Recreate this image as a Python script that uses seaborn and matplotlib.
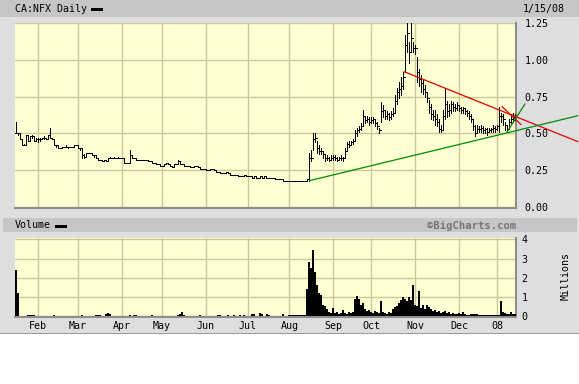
import numpy as np
import pandas as pd
import matplotlib
matplotlib.use("Agg")
import matplotlib.pyplot as plt
import seaborn as sns
from matplotlib.patches import Rectangle

# ---------------- data ----------------
start_date = "2007-01-17"
end_date = "2008-01-15"
holidays = ["2007-04-06", "2007-05-21", "2007-07-02", "2007-08-06", "2007-09-03",
            "2007-10-08", "2007-12-25", "2007-12-26", "2008-01-01"]

close = [0.50, 0.50, 0.46, 0.42, 0.42, 0.49, 0.45, 0.48, 0.48, 0.45,
         0.46, 0.46, 0.46, 0.47, 0.47, 0.46, 0.49, 0.47, 0.46, 0.42,
         0.42, 0.40, 0.40, 0.41, 0.41, 0.41, 0.41, 0.41, 0.41, 0.42,
         0.42, 0.40, 0.40, 0.35, 0.34, 0.37, 0.37, 0.37, 0.35, 0.35,
         0.33, 0.32, 0.32, 0.31, 0.32, 0.31, 0.33, 0.33, 0.33, 0.33,
         0.33, 0.33, 0.33, 0.33, 0.30, 0.30, 0.30, 0.35, 0.33, 0.33,
         0.32, 0.32, 0.32, 0.32, 0.32, 0.32, 0.31, 0.31, 0.30, 0.30,
         0.29, 0.29, 0.28, 0.28, 0.29, 0.30, 0.29, 0.28, 0.27, 0.29,
         0.29, 0.31, 0.29, 0.29, 0.28, 0.28, 0.28, 0.27, 0.27, 0.28,
         0.28, 0.27, 0.26, 0.26, 0.26, 0.25, 0.25, 0.26, 0.26, 0.25,
         0.24, 0.24, 0.23, 0.23, 0.23, 0.24, 0.23, 0.22, 0.22, 0.22,
         0.22, 0.21, 0.21, 0.21, 0.22, 0.21, 0.21, 0.21, 0.20, 0.21,
         0.20, 0.20, 0.21, 0.20, 0.21, 0.20, 0.20, 0.20, 0.20, 0.20,
         0.19, 0.19, 0.19, 0.19, 0.18, 0.18, 0.18, 0.18, 0.18, 0.18,
         0.18, 0.18, 0.18, 0.18, 0.18, 0.18, 0.19, 0.33, 0.33, 0.46,
         0.47, 0.40, 0.38, 0.38, 0.36, 0.33, 0.33, 0.32, 0.33, 0.34,
         0.33, 0.32, 0.33, 0.33, 0.33, 0.38, 0.43, 0.42, 0.44, 0.45,
         0.50, 0.52, 0.53, 0.55, 0.62, 0.59, 0.60, 0.58, 0.59, 0.60,
         0.57, 0.55, 0.52, 0.65, 0.66, 0.62, 0.63, 0.61, 0.63, 0.64,
         0.72, 0.78, 0.80, 0.82, 0.88, 1.10, 1.18, 1.05, 1.15, 1.08,
         1.08, 0.92, 0.87, 0.84, 0.80, 0.78, 0.74, 0.68, 0.63, 0.62,
         0.60, 0.58, 0.53, 0.52, 0.62, 0.70, 0.65, 0.66, 0.70, 0.68,
         0.67, 0.69, 0.67, 0.66, 0.67, 0.65, 0.64, 0.62, 0.60, 0.55,
         0.50, 0.53, 0.53, 0.54, 0.52, 0.53, 0.51, 0.52, 0.53, 0.54,
         0.53, 0.55, 0.62, 0.62, 0.60, 0.56, 0.53, 0.58, 0.60, 0.61, 0.61]

high = [0.58, 0.50, 0.50, 0.46, 0.43, 0.49, 0.49, 0.48, 0.49, 0.48,
        0.47, 0.47, 0.47, 0.47, 0.48, 0.47, 0.49, 0.54, 0.47, 0.46,
        0.42, 0.42, 0.40, 0.41, 0.41, 0.42, 0.41, 0.41, 0.41, 0.42,
        0.42, 0.42, 0.40, 0.40, 0.36, 0.37, 0.37, 0.37, 0.37, 0.35,
        0.35, 0.33, 0.32, 0.32, 0.32, 0.32, 0.33, 0.34, 0.33, 0.34,
        0.33, 0.34, 0.33, 0.33, 0.33, 0.30, 0.30, 0.39, 0.35, 0.33,
        0.33, 0.32, 0.32, 0.32, 0.32, 0.32, 0.32, 0.31, 0.31, 0.30,
        0.30, 0.29, 0.29, 0.28, 0.29, 0.30, 0.30, 0.29, 0.28, 0.29,
        0.29, 0.32, 0.31, 0.29, 0.29, 0.28, 0.28, 0.28, 0.27, 0.28,
        0.28, 0.28, 0.27, 0.26, 0.26, 0.26, 0.25, 0.26, 0.26, 0.26,
        0.25, 0.24, 0.24, 0.23, 0.23, 0.24, 0.24, 0.23, 0.22, 0.22,
        0.22, 0.22, 0.21, 0.21, 0.22, 0.22, 0.21, 0.21, 0.21, 0.21,
        0.21, 0.20, 0.21, 0.21, 0.21, 0.21, 0.20, 0.20, 0.20, 0.20,
        0.20, 0.19, 0.19, 0.19, 0.19, 0.18, 0.18, 0.18, 0.18, 0.18,
        0.18, 0.18, 0.18, 0.18, 0.18, 0.18, 0.19, 0.37, 0.39, 0.50,
        0.50, 0.45, 0.42, 0.40, 0.38, 0.36, 0.35, 0.34, 0.35, 0.35,
        0.35, 0.34, 0.34, 0.35, 0.34, 0.40, 0.44, 0.45, 0.45, 0.46,
        0.52, 0.54, 0.55, 0.57, 0.66, 0.62, 0.62, 0.61, 0.61, 0.61,
        0.60, 0.58, 0.54, 0.71, 0.69, 0.66, 0.65, 0.64, 0.65, 0.67,
        0.76, 0.81, 0.85, 0.88, 0.92, 1.17, 1.30, 1.12, 1.30, 1.12,
        1.10, 1.02, 0.94, 0.90, 0.86, 0.83, 0.78, 0.73, 0.70, 0.66,
        0.66, 0.63, 0.60, 0.56, 0.66, 0.81, 0.72, 0.70, 0.72, 0.71,
        0.70, 0.71, 0.69, 0.68, 0.68, 0.67, 0.66, 0.65, 0.63, 0.60,
        0.56, 0.56, 0.55, 0.56, 0.55, 0.54, 0.54, 0.54, 0.54, 0.56,
        0.55, 0.56, 0.68, 0.64, 0.63, 0.58, 0.56, 0.60, 0.63, 0.64, 0.63]

low = [0.50, 0.49, 0.46, 0.42, 0.42, 0.42, 0.45, 0.45, 0.47, 0.45,
       0.45, 0.44, 0.45, 0.46, 0.46, 0.46, 0.46, 0.47, 0.46, 0.42,
       0.41, 0.40, 0.40, 0.40, 0.41, 0.41, 0.40, 0.41, 0.41, 0.41,
       0.42, 0.40, 0.39, 0.33, 0.33, 0.34, 0.37, 0.37, 0.35, 0.34,
       0.33, 0.32, 0.32, 0.31, 0.31, 0.31, 0.31, 0.33, 0.33, 0.33,
       0.33, 0.33, 0.33, 0.33, 0.30, 0.30, 0.30, 0.30, 0.33, 0.33,
       0.32, 0.32, 0.32, 0.32, 0.32, 0.32, 0.31, 0.31, 0.30, 0.30,
       0.29, 0.29, 0.28, 0.28, 0.28, 0.29, 0.29, 0.28, 0.27, 0.27,
       0.29, 0.29, 0.29, 0.29, 0.28, 0.28, 0.28, 0.27, 0.27, 0.27,
       0.28, 0.27, 0.26, 0.26, 0.26, 0.25, 0.25, 0.25, 0.26, 0.25,
       0.24, 0.24, 0.23, 0.23, 0.23, 0.23, 0.23, 0.22, 0.22, 0.22,
       0.22, 0.21, 0.21, 0.21, 0.21, 0.21, 0.21, 0.21, 0.20, 0.20,
       0.20, 0.20, 0.20, 0.20, 0.20, 0.20, 0.20, 0.20, 0.20, 0.20,
       0.19, 0.19, 0.19, 0.19, 0.18, 0.18, 0.18, 0.18, 0.18, 0.18,
       0.18, 0.18, 0.18, 0.18, 0.18, 0.18, 0.18, 0.18, 0.31, 0.39,
       0.44, 0.37, 0.36, 0.36, 0.33, 0.31, 0.32, 0.31, 0.32, 0.32,
       0.32, 0.31, 0.32, 0.32, 0.31, 0.33, 0.38, 0.41, 0.42, 0.43,
       0.45, 0.48, 0.51, 0.52, 0.56, 0.57, 0.58, 0.56, 0.57, 0.57,
       0.55, 0.53, 0.50, 0.58, 0.61, 0.60, 0.60, 0.59, 0.60, 0.62,
       0.64, 0.70, 0.74, 0.76, 0.80, 0.92, 1.05, 0.98, 1.05, 1.05,
       1.04, 0.85, 0.82, 0.78, 0.77, 0.75, 0.71, 0.64, 0.60, 0.59,
       0.56, 0.55, 0.51, 0.51, 0.53, 0.60, 0.61, 0.62, 0.64, 0.65,
       0.65, 0.66, 0.65, 0.64, 0.64, 0.63, 0.62, 0.60, 0.58, 0.52,
       0.48, 0.50, 0.51, 0.51, 0.50, 0.50, 0.49, 0.51, 0.51, 0.51,
       0.51, 0.52, 0.51, 0.58, 0.56, 0.52, 0.51, 0.53, 0.57, 0.58, 0.59]

volume = [2.4, 1.2, 0.02, 0.02, 0.02, 0.02, 0.05, 0.05, 0.04, 0.05,
          0.02, 0.01, 0.02, 0.01, 0.02, 0.01, 0.02, 0.02, 0.01, 0.03,
          0.01, 0.02, 0.01, 0.01, 0.02, 0.01, 0.01, 0.02, 0.01, 0.01,
          0.02, 0.01, 0.02, 0.03, 0.02, 0.01, 0.01, 0.02, 0.01, 0.01,
          0.04, 0.03, 0.04, 0.02, 0.02, 0.10, 0.15, 0.08, 0.02, 0.01,
          0.01, 0.02, 0.01, 0.01, 0.02, 0.01, 0.01, 0.03, 0.01, 0.05,
          0.05, 0.01, 0.02, 0.01, 0.01, 0.02, 0.01, 0.01, 0.03, 0.01,
          0.01, 0.02, 0.01, 0.01, 0.02, 0.01, 0.01, 0.02, 0.01, 0.01,
          0.02, 0.05, 0.10, 0.22, 0.05, 0.01, 0.02, 0.01, 0.01, 0.02,
          0.01, 0.02, 0.03, 0.01, 0.01, 0.02, 0.01, 0.01, 0.02, 0.01,
          0.02, 0.05, 0.05, 0.01, 0.02, 0.01, 0.03, 0.01, 0.02, 0.03,
          0.01, 0.02, 0.03, 0.01, 0.03, 0.01, 0.02, 0.02, 0.10, 0.08,
          0.02, 0.01, 0.15, 0.10, 0.02, 0.02, 0.08, 0.06, 0.02, 0.01,
          0.02, 0.01, 0.02, 0.01, 0.08, 0.02, 0.01, 0.07, 0.05, 0.04,
          0.05, 0.03, 0.05, 0.04, 0.03, 0.05, 1.40, 2.80, 2.50, 3.45,
          2.30, 1.60, 1.20, 1.10, 0.60, 0.50, 0.35, 0.20, 0.15, 0.40,
          0.15, 0.20, 0.10, 0.15, 0.30, 0.15, 0.10, 0.20, 0.15, 0.20,
          0.90, 1.04, 0.90, 0.55, 0.70, 0.35, 0.25, 0.30, 0.20, 0.15,
          0.25, 0.20, 0.15, 0.78, 0.20, 0.15, 0.10, 0.20, 0.15, 0.35,
          0.45, 0.50, 0.70, 0.85, 1.00, 0.90, 0.80, 1.00, 0.85, 1.60,
          0.60, 0.50, 1.30, 0.40, 0.60, 0.35, 0.60, 0.45, 0.35, 0.25,
          0.30, 0.20, 0.25, 0.15, 0.20, 0.25, 0.15, 0.20, 0.10, 0.15,
          0.12, 0.10, 0.15, 0.10, 0.20, 0.10, 0.05, 0.05, 0.10, 0.10,
          0.08, 0.10, 0.05, 0.03, 0.05, 0.05, 0.04, 0.05, 0.03, 0.05,
          0.04, 0.05, 0.05, 0.80, 0.20, 0.15, 0.10, 0.12, 0.20, 0.10, 0.10]

month_labels = ["Feb", "Mar", "Apr", "May", "Jun", "Jul", "Aug", "Sep", "Oct", "Nov", "Dec", "08"]
price_ticks = [0.00, 0.25, 0.50, 0.75, 1.00, 1.25]
volume_ticks = [0, 1, 2, 3, 4]

# trend lines drawn on the chart: (trading-day index, price)
red_long_x, red_long_y = [194.5, 281.5], [0.919, 0.444]
green_long_x, green_long_y = [147.0, 281.5], [0.179, 0.620]
red_short_x, red_short_y = [243.5, 253.0], [0.682, 0.560]
green_short_x, green_short_y = [246.0, 255.0], [0.510, 0.700]

# ---------------- build frame ----------------
cbd = pd.offsets.CustomBusinessDay(holidays=holidays)
dates = pd.date_range(start_date, end_date, freq=cbd)
n = min(len(dates), len(close), len(high), len(low), len(volume))
df = pd.DataFrame({"date": dates[:n], "close": close[:n], "high": high[:n],
                   "low": low[:n], "volume": volume[:n]})
df["idx"] = np.arange(n)
df["open"] = df["close"].shift(1).fillna(df["close"].iloc[0])
month_start = df.groupby(df["date"].dt.to_period("M"))["idx"].min().sort_index().iloc[1:].values
month_start = month_start[:len(month_labels)]

# ---------------- style ----------------
sns.set_theme(style="white")
plt.rcParams["font.family"] = ["DejaVu Sans Mono", "DejaVu Sans"]

W, H = 579, 384
BG = "#dedede"
BAR = "#c6c6c6"
PANEL = "#ffffd4"
GRID = "#c9c996"
BORDER = "#8e8e8e"
LW = 0.55

fig = plt.figure(figsize=(W / 100, H / 100), dpi=100, facecolor=BG)


def rect(l, t, r, b):
    return [l / W, 1 - b / H, (r - l) / W, (b - t) / H]


def fx(x):
    return x / W


def fy(y):
    return 1 - y / H


# background decorations
fig.patches.append(Rectangle((0, fy(17)), 1, 17 / H, transform=fig.transFigure,
                             facecolor=BAR, edgecolor="none", zorder=-5))
fig.patches.append(Rectangle((fx(3), fy(232)), fx(574), 14 / H, transform=fig.transFigure,
                             facecolor=BAR, edgecolor="none", zorder=-5))
fig.patches.append(Rectangle((0, 0), 1, (H - 334) / H, transform=fig.transFigure,
                             facecolor="white", edgecolor="none", zorder=-5))
fig.patches.append(Rectangle((0, fy(334)), 1, 1.5 / H, transform=fig.transFigure,
                             facecolor="#9a9a9a", edgecolor="none", zorder=-4))
# legend swatches
fig.patches.append(Rectangle((fx(91), fy(10.5)), fx(12), 3 / H, transform=fig.transFigure,
                             facecolor="black", edgecolor="none"))
fig.patches.append(Rectangle((fx(55), fy(227.5)), fx(12), 3 / H, transform=fig.transFigure,
                             facecolor="black", edgecolor="none"))

# ---------------- price panel ----------------
ax = fig.add_axes(rect(15, 23, 516, 208))
ax.set_facecolor(PANEL)
ax.set_xlim(-0.5, n - 0.5)
ax.set_ylim(-1 / 147.2, 1.25)

idx = df["idx"].values
ax.vlines(idx, df["low"], df["high"], color="black", lw=LW, antialiased=False, zorder=3)
ax.hlines(df["open"], idx - 0.5, idx, color="black", lw=LW, antialiased=False, zorder=3)
ax.hlines(df["close"], idx, idx + 0.5, color="black", lw=LW, antialiased=False, zorder=3)

for xs, ys, col in [(red_long_x, red_long_y, "#e60000"), (green_long_x, green_long_y, "#008a00"),
                    (red_short_x, red_short_y, "#e60000"), (green_short_x, green_short_y, "#008a00")]:
    sns.lineplot(x=xs, y=ys, ax=ax, color=col, lw=0.9, clip_on=False, zorder=4,
                 estimator=None, sort=False)

ax.set_yticks(price_ticks)
ax.set_yticklabels([f"{v:.2f}" for v in price_ticks])
ax.yaxis.tick_right()
ax.set_xticks(month_start)
ax.set_xticklabels([])
ax.grid(True, color=GRID, lw=1.0, zorder=0)
ax.set_axisbelow(True)
ax.tick_params(axis="both", length=0)
ax.tick_params(axis="y", pad=6, labelsize=7.2, labelcolor="black")
for s in ["top", "left"]:
    ax.spines[s].set_visible(False)
for s in ["right", "bottom"]:
    ax.spines[s].set_color(BORDER)
    ax.spines[s].set_linewidth(1.5)
ax.set_xlabel("")
ax.set_ylabel("")

# ---------------- volume panel ----------------
axv = fig.add_axes(rect(15, 238, 516, 317))
axv.set_facecolor(PANEL)
axv.bar(idx, df["volume"], width=1.0, color="black", linewidth=0, antialiased=False, zorder=3)
axv.set_xlim(-0.5, n - 0.5)
axv.set_ylim(-1 / 19.2, 4.07)
axv.set_yticks(volume_ticks)
axv.set_yticklabels([str(v) for v in volume_ticks])
axv.yaxis.tick_right()
axv.set_xticks(month_start)
axv.set_xticklabels(month_labels)
axv.grid(True, color=GRID, lw=1.0, zorder=0)
axv.set_axisbelow(True)
axv.tick_params(axis="both", length=0, labelsize=7.2, labelcolor="black")
axv.tick_params(axis="y", pad=4)
axv.tick_params(axis="x", pad=3)
for s in ["top", "left"]:
    axv.spines[s].set_visible(False)
for s in ["right", "bottom"]:
    axv.spines[s].set_color(BORDER)
    axv.spines[s].set_linewidth(1.5)
axv.set_xlabel("")
axv.set_ylabel("")

# ---------------- texts ----------------
fig.text(fx(15), fy(9), "CA:NFX Daily", ha="left", va="center", fontsize=7.2, color="black")
fig.text(fx(565), fy(9), "1/15/08", ha="right", va="center", fontsize=7.2, color="black")
fig.text(fx(15), fy(225.5), "Volume", ha="left", va="center", fontsize=7.2, color="black")
fig.text(fx(516), fy(225.5), "\u00a9BigCharts.com", ha="right", va="center", fontsize=7.6,
         color="#767676", fontweight="bold")
fig.text(fx(566), fy(276), "Millions", ha="center", va="center", rotation=90,
         fontsize=7.2, color="black")

fig.savefig("out.png", dpi=100, facecolor=fig.get_facecolor())
